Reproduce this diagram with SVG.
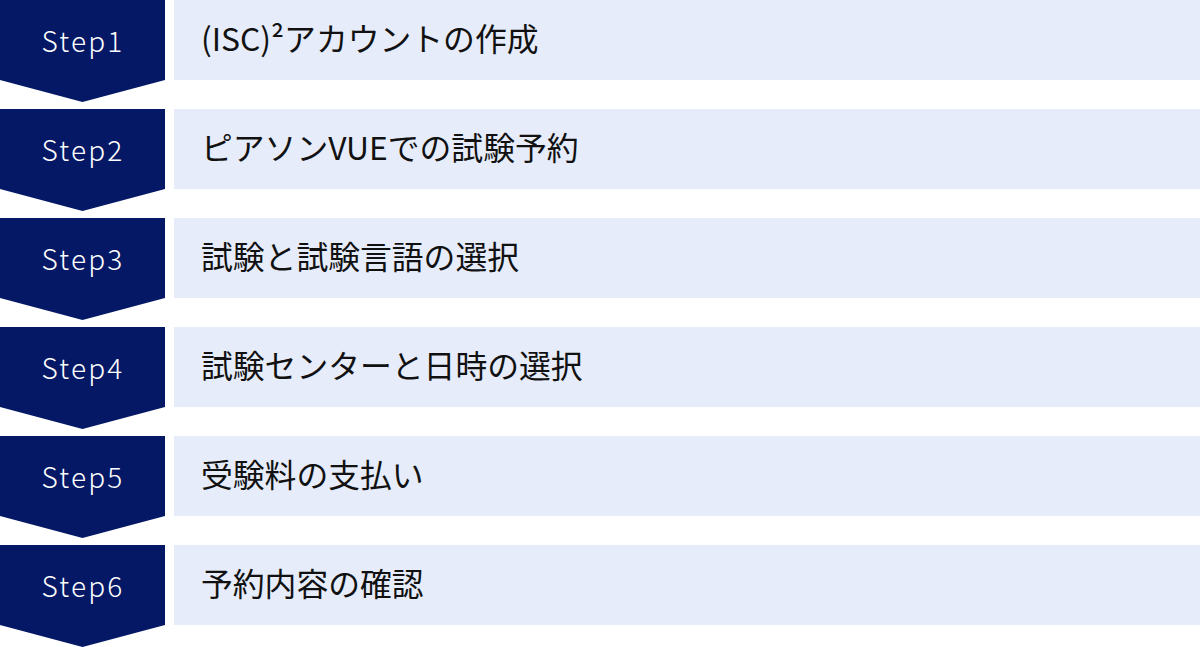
<svg xmlns="http://www.w3.org/2000/svg" width="1200" height="647" viewBox="0 0 1200 647">
<style>
.chev{fill:#041866}
.box{fill:#e6ecf9}
.st{font-family:"Noto Sans CJK JP","Noto Sans",sans-serif;font-size:28px;font-weight:300;fill:#ffffff;text-anchor:middle;letter-spacing:2.2px}
.lb{font-family:"Noto Sans CJK JP","Noto Sans",sans-serif;font-size:31.8px;fill:#111111}
</style>
<rect width="1200" height="647" fill="#ffffff"/>
<g id="step1"><polygon class="chev" points="0,0 165,0 165,80 82.5,102 0,80"/><rect class="box" x="174" y="0" width="1026" height="80"/><text class="st" x="83" y="52">Step1</text><text class="lb" x="201" y="51">(ISC)²アカウントの作成</text></g>
<g id="step2"><polygon class="chev" points="0,109 165,109 165,189 82.5,211 0,189"/><rect class="box" x="174" y="109" width="1026" height="80"/><text class="st" x="83" y="161">Step2</text><text class="lb" x="201" y="160">ピアソンVUEでの試験予約</text></g>
<g id="step3"><polygon class="chev" points="0,218 165,218 165,298 82.5,320 0,298"/><rect class="box" x="174" y="218" width="1026" height="80"/><text class="st" x="83" y="270">Step3</text><text class="lb" x="201" y="269">試験と試験言語の選択</text></g>
<g id="step4"><polygon class="chev" points="0,327 165,327 165,407 82.5,429 0,407"/><rect class="box" x="174" y="327" width="1026" height="80"/><text class="st" x="83" y="379">Step4</text><text class="lb" x="201" y="378">試験センターと日時の選択</text></g>
<g id="step5"><polygon class="chev" points="0,436 165,436 165,516 82.5,538 0,516"/><rect class="box" x="174" y="436" width="1026" height="80"/><text class="st" x="83" y="488">Step5</text><text class="lb" x="201" y="487">受験料の支払い</text></g>
<g id="step6"><polygon class="chev" points="0,545 165,545 165,625 82.5,647 0,625"/><rect class="box" x="174" y="545" width="1026" height="80"/><text class="st" x="83" y="597">Step6</text><text class="lb" x="201" y="596">予約内容の確認</text></g>
<g id="connectors"/>
</svg>
